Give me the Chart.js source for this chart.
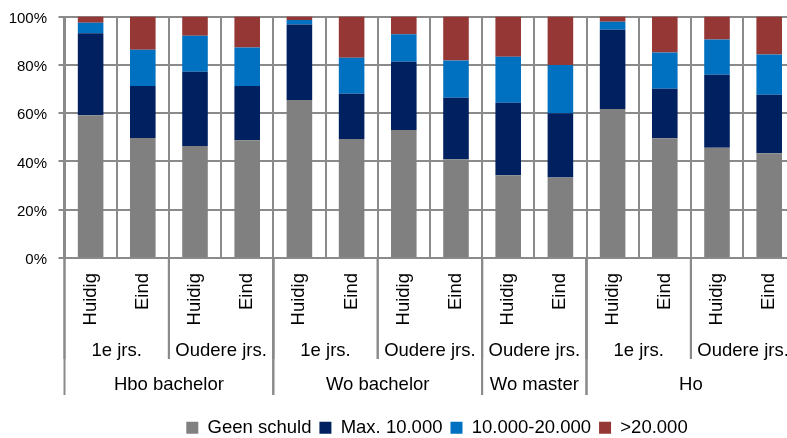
<!DOCTYPE html>
<html>
  <head>
    <title>Studieschuld per opleiding</title>
    <script src="https://cdn.jsdelivr.net/npm/chart.js"></script>
    <style>
      html,
      body {
        margin: 0;
        padding: 0;
        overflow: hidden;
        background: #fff;
      }
    </style>
  </head>

  <body>
    <canvas id="myChart" width="874" height="447"></canvas>

    <script>
      // categories, three levels deep
      var periods = ["Huidig", "Eind", "Huidig", "Eind", "Huidig", "Eind", "Huidig", "Eind", "Huidig", "Eind", "Huidig", "Eind", "Huidig", "Eind"];
      var cohorts = ["1e jrs.", "Oudere jrs.", "1e jrs.", "Oudere jrs.", "Oudere jrs.", "1e jrs.", "Oudere jrs."];
      var cohortSize = [2, 2, 2, 2, 2, 2, 2];
      var sectors = ["Hbo bachelor", "Wo bachelor", "Wo master", "Ho"];
      var sectorSize = [4, 4, 2, 4];

      // share of students per debt class (%)
      var geenSchuld = [59.1, 49.7, 46.4, 48.8, 65.4, 49.3, 53.0, 40.9, 34.3, 33.3, 61.7, 49.6, 45.7, 43.4];
      var max10 = [34.0, 21.5, 30.7, 22.4, 31.3, 18.7, 28.3, 25.5, 30.0, 26.6, 32.8, 20.5, 30.2, 24.2];
      var tot20 = [4.3, 15.0, 14.9, 16.0, 1.9, 14.9, 11.3, 15.4, 19.0, 20.0, 3.3, 15.0, 14.6, 16.7];
      var boven20 = [2.6, 13.8, 8.0, 12.8, 1.4, 17.1, 7.4, 18.2, 16.7, 20.1, 2.2, 14.9, 9.5, 15.7];

      var yMax = 100;
      var yStep = 20;

      var fontName = "Liberation Sans";
      var lineColor = "#8a8a8a";

      // draws the cohort and sector rows below the period labels
      var groupRows = {
        id: "groupRows",
        afterDraw: function (chart) {
          var x = chart.scales.x;
          var ctx = chart.ctx;
          var top = x.top;

          function edge(i) {
            return x.getPixelForValue(i - 0.5);
          }

          function drawRow(names, sizes, lineEnd, baseline) {
            var start = 0;
            ctx.save();
            ctx.strokeStyle = lineColor;
            ctx.lineWidth = 2;
            ctx.fillStyle = "#000";
            ctx.font = "18.5px '" + fontName + "'";
            ctx.textAlign = "center";
            ctx.textBaseline = "alphabetic";
            for (var i = 0; i < names.length; i++) {
              var left = edge(start);
              var right = edge(start + sizes[i]);
              ctx.beginPath();
              ctx.moveTo(left, top);
              ctx.lineTo(left, top + lineEnd);
              ctx.moveTo(right, top);
              ctx.lineTo(right, top + lineEnd);
              ctx.stroke();
              ctx.fillText(names[i], (left + right) / 2, top + baseline);
              start += sizes[i];
            }
            ctx.restore();
          }

          drawRow(cohorts, cohortSize, 101, 98);
          drawRow(sectors, sectorSize, 137, 132);
        },
      };

      var ctx = document.getElementById("myChart").getContext("2d");
      var chart = new Chart(ctx, {
        type: "bar",
        data: {
          labels: periods,
          datasets: [
            { label: "Geen schuld", data: geenSchuld, backgroundColor: "#808080" },
            { label: "Max. 10.000", data: max10, backgroundColor: "#002060" },
            { label: "10.000-20.000", data: tot20, backgroundColor: "#0070c0" },
            { label: ">20.000", data: boven20, backgroundColor: "#953735" },
          ],
        },
        options: {
          responsive: false,
          animation: false,
          layout: { padding: { top: 16.5 } },
          datasets: {
            bar: { categoryPercentage: 1, barPercentage: 0.49, borderWidth: 0 },
          },
          scales: {
            x: {
              stacked: true,
              grid: { color: lineColor, lineWidth: 2, drawTicks: false, offset: true },
              border: { color: lineColor, width: 2 },
              ticks: {
                autoSkip: false,
                maxRotation: 90,
                minRotation: 90,
                padding: 15,
                color: "#000",
                font: { family: fontName, size: 18.5 },
              },
              afterFit: function (s) {
                s.height = 152.5;
              },
            },
            y: {
              stacked: true,
              min: 0,
              max: yMax,
              grid: { color: lineColor, lineWidth: 2, tickLength: 6 },
              border: { color: lineColor, width: 2 },
              ticks: {
                stepSize: yStep,
                padding: 11.5,
                labelOffset: 2,
                color: "#000",
                font: { family: fontName, size: 15 },
                callback: function (v) {
                  return v + "%";
                },
              },
              afterFit: function (s) {
                s.width = 64.5;
                // tick padding should not push the plot down
                s.paddingTop = 9;
                s.paddingBottom = 9;
              },
            },
            // empty axis that keeps room free on the right
            right: {
              position: "right",
              display: true,
              grid: { display: false },
              border: { display: false },
              ticks: { display: false },
              afterFit: function (s) {
                s.width = 78.7;
              },
            },
          },
          plugins: {
            legend: {
              position: "bottom",
              labels: {
                boxWidth: 12,
                boxHeight: 12,
                padding: 8,
                color: "#000",
                font: { family: fontName, size: 18.5 },
              },
            },
            tooltip: { enabled: false },
          },
        },
        plugins: [groupRows],
      });
    </script>
  </body>
</html>
